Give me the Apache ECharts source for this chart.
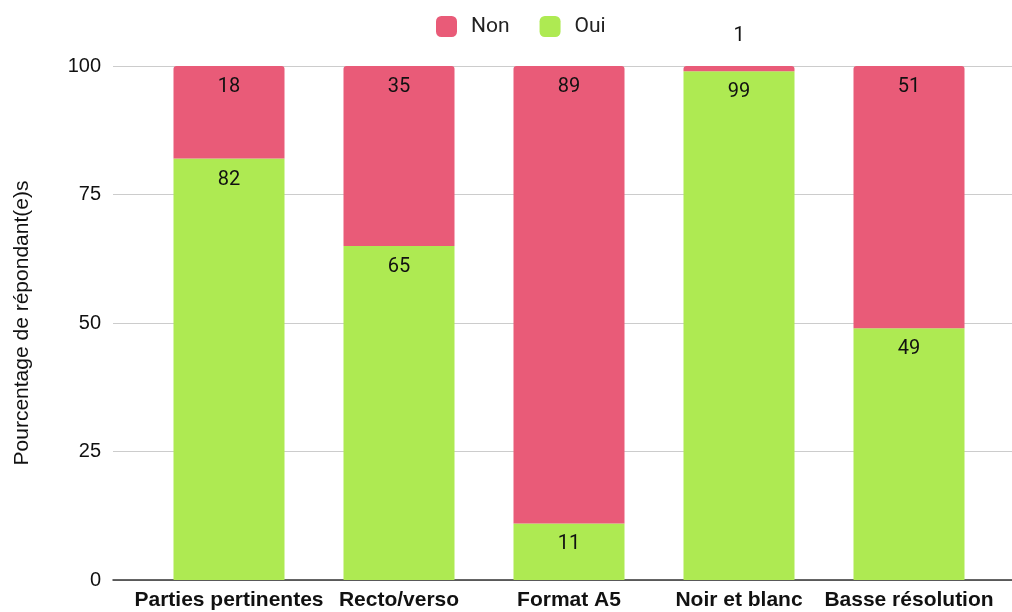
<!DOCTYPE html>
<html>
<head>
<meta charset="utf-8">
<script src="https://cdn.jsdelivr.net/npm/echarts@6/dist/echarts.min.js"></script>
<style>
  html, body { margin: 0; padding: 0; background: #fff; }
  #chart { width: 1012px; height: 612px; }
</style>
</head>
<body>
<div id="chart"></div>
<script>
var categories = ['Parties pertinentes', 'Recto/verso', 'Format A5', 'Noir et blanc', 'Basse résolution'];
var ouiValues = [82, 65, 11, 99, 49];
var nonValues = [18, 35, 89, 1, 51];
var yTicks = [0, 25, 50, 75, 100];

var pink = '#e95b78';
var green = '#aeea52';

var chart = echarts.init(document.getElementById('chart'));

// small segments get their label above the bar
var nonData = nonValues.map(function (v) {
    if (v < 5) {
        return { value: v, label: { position: 'top', distance: 20 } };
    }
    return v;
});

var option = {
    animation: false,
    legend: {
        top: 11,
        left: 431,
        itemWidth: 21,
        itemHeight: 21,
        itemGap: 30,
        icon: 'roundRect',
        data: ['Non', 'Oui'],
        textStyle: { fontFamily: 'Roboto', fontSize: 21, color: '#222', padding: [0, 0, 0, 9] }
    },
    grid: [
        { left: 113, right: 0, top: 66, bottom: 32 },
        { left: 144, right: 18, top: 66, bottom: 32 }
    ],
    xAxis: [
        {
            type: 'category', gridIndex: 0, data: [''],
            axisLine: { lineStyle: { color: '#333', width: 1.5 } },
            axisTick: { show: false }, axisLabel: { show: false }
        },
        {
            type: 'category', gridIndex: 1, data: categories,
            axisLine: { show: false }, axisTick: { show: false },
            axisLabel: {
                interval: 0, hideOverlap: false, margin: 10,
                fontFamily: 'Liberation Sans', fontWeight: 'bold', fontSize: 21, color: '#111'
            }
        }
    ],
    yAxis: [
        {
            type: 'value', gridIndex: 0, min: yTicks[0], max: yTicks[yTicks.length - 1], interval: 25,
            name: 'Pourcentage de répondant(e)s', nameLocation: 'middle', nameGap: 80,
            nameTextStyle: { fontFamily: 'Liberation Sans', fontSize: 21, color: '#111' },
            axisLabel: { fontFamily: 'Liberation Sans', fontSize: 20, color: '#111', margin: 12 },
            splitLine: { lineStyle: { color: '#cccccc', width: 1 } },
            axisLine: { show: false }, axisTick: { show: false }
        },
        {
            type: 'value', gridIndex: 1, min: 0, max: 100, interval: 25,
            axisLabel: { show: false }, splitLine: { show: false },
            axisLine: { show: false }, axisTick: { show: false }
        }
    ],
    series: [
        {
            name: 'Oui', type: 'bar', stack: 'total', xAxisIndex: 1, yAxisIndex: 1,
            data: ouiValues, barWidth: 111,
            itemStyle: { color: green },
            label: { show: true, position: 'insideTop', distance: 11, fontFamily: 'Roboto', fontSize: 20, color: '#111' }
        },
        {
            name: 'Non', type: 'bar', stack: 'total', xAxisIndex: 1, yAxisIndex: 1,
            data: nonData, barWidth: 111,
            itemStyle: { color: pink, borderRadius: [3, 3, 0, 0] },
            label: { show: true, position: 'insideTop', distance: 11, fontFamily: 'Roboto', fontSize: 20, color: '#111' }
        }
    ]
};

chart.setOption(option);
</script>
</body>
</html>
